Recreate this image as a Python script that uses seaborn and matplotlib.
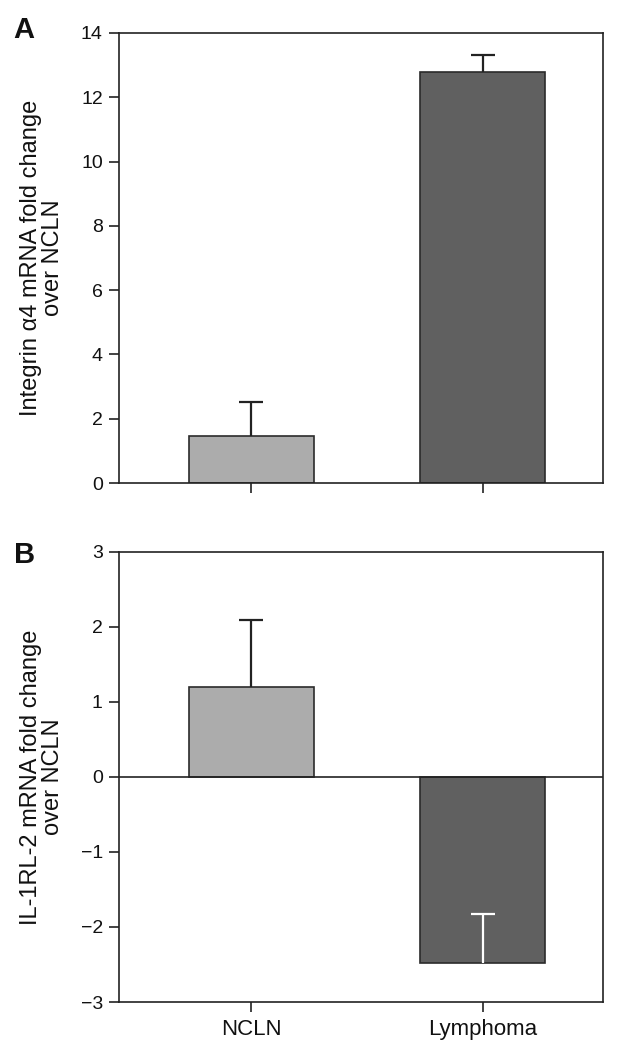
import matplotlib
matplotlib.use("Agg")
import matplotlib.pyplot as plt
import seaborn as sns
import pandas as pd

# ---- data ----
categories = ["NCLN", "Lymphoma"]
integrin_mean = [1.45, 12.78]
integrin_err = [1.07, 0.52]
il1rl2_mean = [1.20, -2.48]
il1rl2_err = [0.89, 0.65]
bar_colors = ["#acacac", "#606060"]
err_colors_a = ["#222222", "#222222"]
err_colors_b = ["#222222", "#ffffff"]
yticks_a = [0, 2, 4, 6, 8, 10, 12, 14]
yticks_b = [-3, -2, -1, 0, 1, 2, 3]

sns.set_theme(style="white")
plt.rcParams["font.family"] = ["Liberation Sans", "DejaVu Sans"]

fig = plt.figure(figsize=(6.23, 10.5), dpi=100)
ax_a = fig.add_axes([0.1918, 0.540, 0.776, 0.4286])
ax_b = fig.add_axes([0.1918, 0.0457, 0.776, 0.4289])

def draw(ax, means, errs, ecolors, ylim, yticks, ylabel, show_xlabels):
    df = pd.DataFrame({"group": categories, "value": means})
    sns.barplot(data=df, x="group", y="value", hue="group", palette=bar_colors,
                order=categories, hue_order=categories, legend=False,
                width=0.542, edgecolor="#2b2b2b", linewidth=1.2, ax=ax,
                errorbar=None, saturation=1)
    for i, (m, e, c) in enumerate(zip(means, errs, ecolors)):
        eb = ax.errorbar([i], [m], yerr=[[0], [e]], fmt="none", ecolor=c,
                         elinewidth=1.6, capsize=8.5, capthick=1.6, zorder=5)
        caps = eb.lines[1]
        if len(caps) > 1:
            caps[0].set_visible(False)
    ax.set_xlim(-0.570, 1.520)
    ax.set_ylim(*ylim)
    ax.set_yticks(yticks)
    ax.set_yticklabels([f"{t}".replace("-", "\u2212") for t in yticks], fontsize=14)
    ax.set_xticks([0, 1])
    if show_xlabels:
        ax.set_xticklabels(categories, fontsize=16)
    else:
        ax.set_xticklabels([])
    ax.set_xlabel("")
    ax.set_ylabel(ylabel, fontsize=17, labelpad=12, linespacing=1.0)
    ax.tick_params(axis="both", direction="out", length=7, width=1.2,
                   color="#222222", labelcolor="#111111", pad=5,
                   bottom=True, left=True, top=False, right=False)
    for s in ax.spines.values():
        s.set_color("#222222")
        s.set_linewidth(1.2)
    ax.yaxis.label.set_color("#111111")

draw(ax_a, integrin_mean, integrin_err, err_colors_a, (0, 14), yticks_a,
     "Integrin \u03b14 mRNA fold change\nover NCLN", False)
draw(ax_b, il1rl2_mean, il1rl2_err, err_colors_b, (-3, 3), yticks_b,
     "IL-1RL-2 mRNA fold change\nover NCLN", True)
ax_b.axhline(0, color="#222222", linewidth=1.2, zorder=4)

fig.text(0.022, 0.9719, "A", fontsize=21, fontweight="bold", va="center", ha="left", color="#111111")
fig.text(0.022, 0.4714, "B", fontsize=21, fontweight="bold", va="center", ha="left", color="#111111")

fig.savefig("out.png", dpi=100)
